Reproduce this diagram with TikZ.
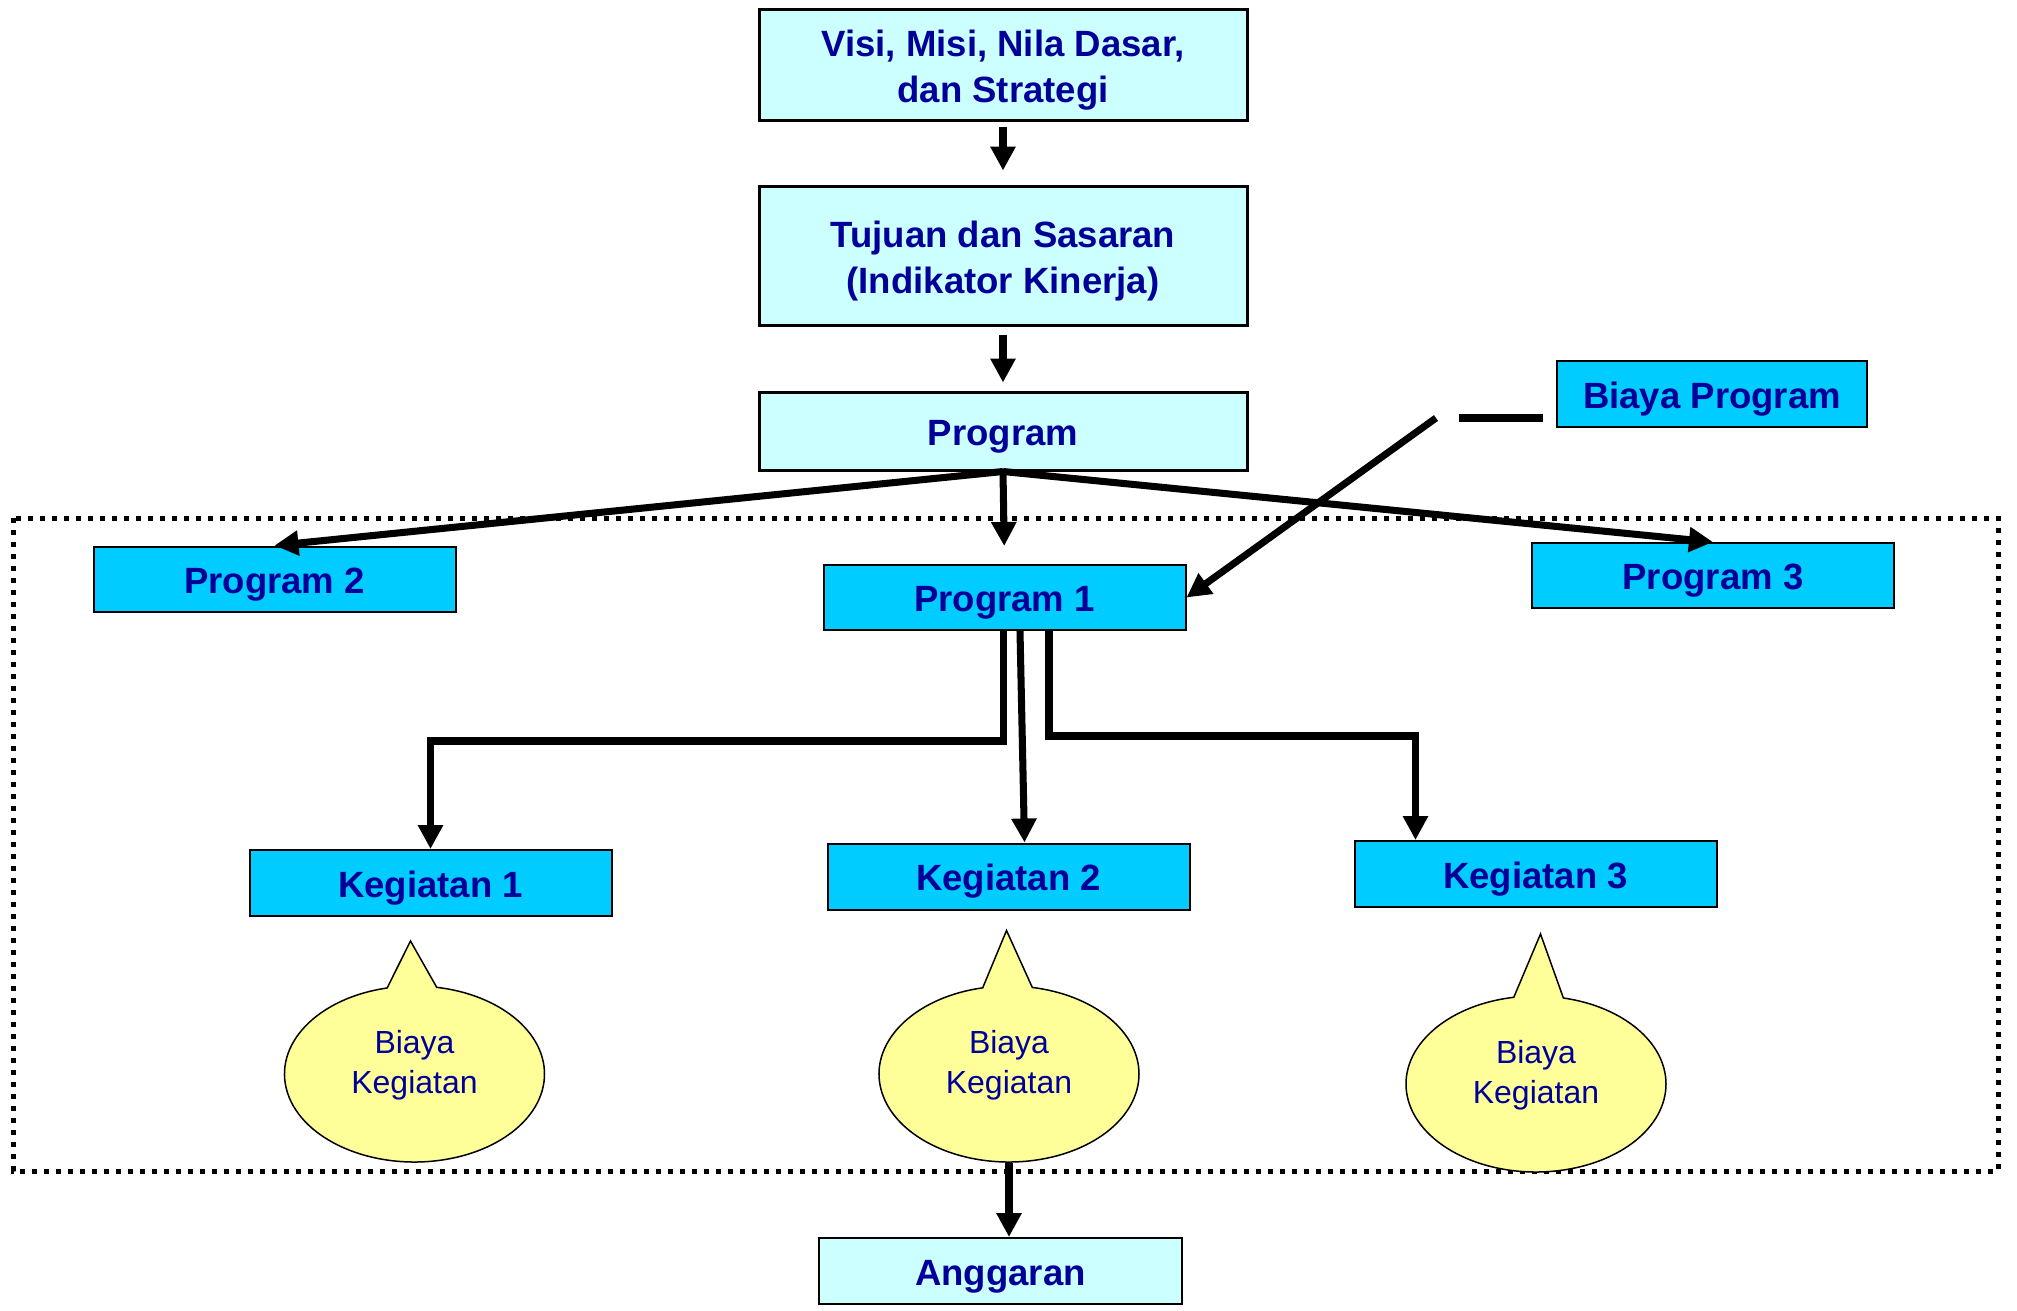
\documentclass[tikz,border=0pt]{standalone}
\usepackage{fontspec}
\setmainfont{Liberation Sans}
\usepackage{xcolor}
\usepackage{tikz}
\usetikzlibrary{shapes.geometric, shapes.callouts, arrows.meta, positioning, calc}

\definecolor{paleCyan}{HTML}{CCFFFF}
\definecolor{deepCyan}{HTML}{00CCFF}
\definecolor{navyText}{HTML}{000099}
\definecolor{paleYellow}{HTML}{FFFF99}

\begin{document}
\begin{tikzpicture}[
   node distance = 0.63cm,
   topbox/.style = {draw, rectangle, line width=0.03cm, fill=paleCyan, minimum width=4.88cm, inner sep=0pt, align=center, text=navyText, font=\bfseries\fontsize{10.4}{12}\selectfont, execute at begin node={\rule{0pt}{0.36cm}}},
   twoline/.style = {font=\bfseries\fontsize{10.4}{13}\selectfont, execute at begin node={\rule{0pt}{0.83cm}}},
   progbox/.style = {draw, rectangle, line width=0.02cm, fill=deepCyan, minimum width=3.62cm, minimum height=0.65cm, inner sep=0pt, align=center, text=navyText, font=\bfseries\fontsize{10.4}{12}\selectfont, execute at begin node={\rule{0pt}{0.36cm}}},
   bubble/.style = {ellipse callout, draw, line width=0.015cm, fill=paleYellow, minimum width=2.6cm, minimum height=1.76cm, inner sep=0pt, text depth=0.25cm, callout pointer arc=22, align=center, text=navyText, font=\fontsize{9.1}{11.4}\selectfont},
   line/.style = {draw, -{Triangle[length=0.24cm, width=0.24cm]}, line width=2pt},
   frame/.style = {draw, line width=0.05cm, dash pattern=on 0.05cm off 0.07cm}
   ]
  \useasboundingbox (0,0) rectangle (20.17,-13.10);

  % Dotted frame round the programs
  \draw[frame] (0.13,-5.18) rectangle (19.98,-11.71);

  % Main column
  \node[topbox, twoline, minimum height=1.11cm] (visi) at (10.03,-0.645)
   {Visi, Misi, Nila Dasar,\\
   dan Strategi};
  \node[topbox, twoline, minimum height=1.39cm, below=of visi] (tujuan)
   {Tujuan dan Sasaran\\
   (Indikator Kinerja)};
  \node[topbox, minimum height=0.78cm, below=0.64cm of tujuan] (program)
   {Program};

  % Programs
  \node[progbox] (prog2) at (2.745,-5.79) {Program 2};
  \node[progbox] (prog1) at (10.045,-5.975) {Program 1};
  \node[progbox] (prog3) at (17.13,-5.755) {Program 3};
  \node[progbox, minimum width=3.10cm, minimum height=0.66cm] (bprog) at (17.12,-3.94) {Biaya Program};

  % Kegiatan
  \node[progbox, minimum height=0.66cm] (keg1) at (4.305,-8.83) {Kegiatan 1};
  \node[progbox, minimum height=0.66cm] (keg2) at (10.085,-8.765) {Kegiatan 2};
  \node[progbox, minimum height=0.66cm] (keg3) at (15.355,-8.74) {Kegiatan 3};

  % Biaya kegiatan
  \node[bubble, callout absolute pointer={([xshift=-0.2cm,yshift=-0.24cm]keg1.south)}] (bk1) at (4.145,-10.74) {Biaya\\Kegiatan};
  \node[bubble, callout absolute pointer={([xshift=-0.02cm,yshift=-0.20cm]keg2.south)}] (bk2) at (10.09,-10.74) {Biaya\\Kegiatan};
  \node[bubble, callout absolute pointer={([xshift=0.05cm,yshift=-0.26cm]keg3.south)}] (bk3) at (15.36,-10.84) {Biaya\\Kegiatan};

  % Anggaran
  \node[topbox, line width=0.02cm, minimum width=3.63cm, minimum height=0.66cm] (anggaran) at (10.005,-12.71) {Anggaran};

  % Arrows
  \draw[line, shorten <=0.05cm, shorten >=0.14cm] (visi) -- (tujuan);
  \draw[line, shorten <=0.08cm, shorten >=0.08cm] (tujuan) -- (program);
  \draw[line] (program.south) -- (prog2.north);
  \draw[line] (program.south) -- (prog3.north);
  \draw[line, shorten >=0.18cm] (program.south) -- (prog1.north);
  \coordinate (bpstart) at ([xshift=-1.20cm,yshift=-0.24cm]bprog.west);
  \coordinate (bpend) at ([xshift=-0.13cm,yshift=-0.24cm]bprog.west);
  \draw[line width=2pt] (bpend) -- ++(-0.84,0);
  \draw[line] (bpstart) -- (prog1.east);
  \draw[line] ([xshift=-0.01cm]prog1.south) -- ++(0,-1.10) -| (keg1.north);
  \draw[line] ([xshift=0.155cm]prog1.south) -- ([xshift=0.16cm]keg2.north);
  \draw[line] ([xshift=0.445cm]prog1.south) -- ++(0,-1.05) -| ([xshift=-1.2cm]keg3.north);
  \draw[line] (bk2.south) -- (bk2.south |- anggaran.north);
\end{tikzpicture}
\end{document}
